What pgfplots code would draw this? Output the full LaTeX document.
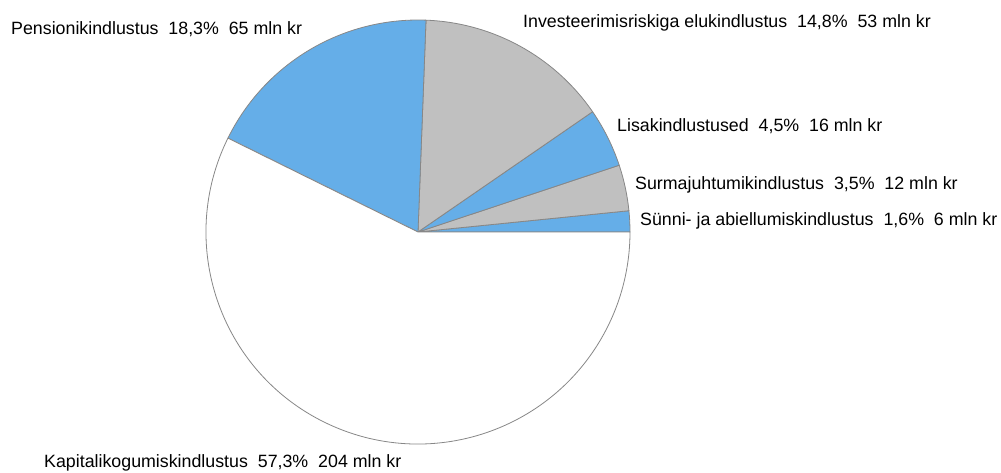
\documentclass[border=0pt]{standalone}
\usepackage{fontspec}
\setmainfont{Liberation Sans}
\usepackage{pgfplots}
\usepackage{pgfplotstable}
\pgfplotsset{compat=1.18}
\definecolor{pieblue}{RGB}{101,174,232}
\definecolor{piegrey}{RGB}{192,192,192}
\definecolor{pieline}{RGB}{135,135,135}
\tikzset{lbl/.style={font=\fontsize{17.8}{20}\selectfont, inner sep=0pt, anchor=base west}}

\pgfplotstableread{
pct mln col
1.6 6 pieblue
3.5 12 piegrey
4.5 16 pieblue
14.8 53 piegrey
18.3 65 pieblue
57.3 204 white
}\piedata

\begin{document}
\begin{tikzpicture}
\begin{axis}[
  x=1pt, y=1pt,
  xmin=0, xmax=1001, ymin=0, ymax=472,
  enlargelimits=false,
  hide axis,
  clip=false,
]
\pgfplotsextra{
  \xdef\cum{0}
  \foreach \i in {0,...,5}{
    \pgfplotstablegetelem{\i}{pct}\of\piedata \let\p\pgfplotsretval
    \pgfplotstablegetelem{\i}{col}\of\piedata \let\c\pgfplotsretval
    \pgfmathsetmacro\a{\cum*3.6}
    \pgfmathsetmacro\nc{\cum+\p}
    \pgfmathsetmacro\b{\nc*3.6}
    \filldraw[fill=\c, draw=pieline, line width=0.8pt]
      (axis cs:418,240) -- ++(\a:212pt) arc[start angle=\a, end angle=\b, radius=212pt] -- cycle;
    \xdef\cum{\nc}
  }
}
\node[lbl] at (axis cs:11,437.5) {Pensionikindlustus\ \ 18,3\%\ \ 65 mln kr};
\node[lbl] at (axis cs:523,444.5) {Investeerimisriskiga elukindlustus\ \ 14,8\%\ \ 53 mln kr};
\node[lbl] at (axis cs:617,340.5) {Lisakindlustused\ \ 4,5\%\ \ 16 mln kr};
\node[lbl] at (axis cs:635,282.5) {Surmajuhtumikindlustus\ \ 3,5\%\ \ 12 mln kr};
\node[lbl] at (axis cs:640,246.5) {Sünni- ja abiellumiskindlustus\ \ 1,6\%\ \ 6 mln kr};
\node[lbl] at (axis cs:44,4.5) {Kapitalikogumiskindlustus\ \ 57,3\%\ \ 204 mln kr};
\end{axis}
\pgfresetboundingbox
\path[use as bounding box] (current axis.south west) rectangle (current axis.north east);
\end{tikzpicture}
\end{document}
